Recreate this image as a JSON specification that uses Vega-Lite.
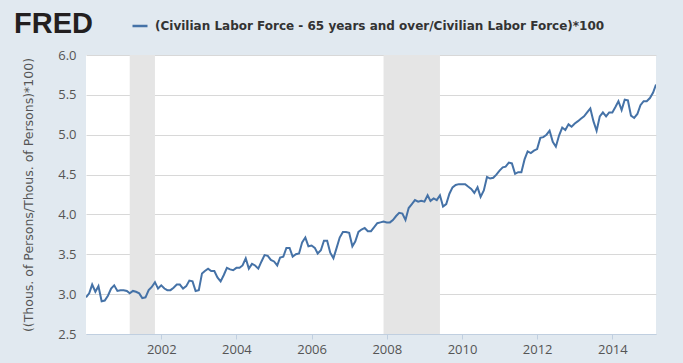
{
  "$schema": "https://vega.github.io/schema/vega-lite/v6.json",
  "width": 570,
  "height": 279,
  "autosize": {"type": "none"},
  "padding": {"left": 86, "top": 55, "right": 27, "bottom": 29},
  "background": "#e1e9f0",
  "title": {
    "text": "FRED",
    "anchor": "start",
    "frame": "group",
    "dx": -72,
    "offset": -22,
    "font": "Liberation Sans",
    "fontSize": 29,
    "fontWeight": 900,
    "color": "#231f20"
  },
  "config": {
    "view": {"fill": "white", "stroke": null},
    "font": "Open Sans",
    "axis": {
      "labelFont": "Open Sans",
      "labelFontSize": 13,
      "labelColor": "#555555",
      "titleFont": "DejaVu Sans",
      "titleFontSize": 12.5,
      "titleFontWeight": "normal",
      "titleColor": "#555555"
    },
    "legend": {
      "orient": "none",
      "legendX": 45,
      "legendY": -38,
      "padding": 0,
      "symbolType": "stroke",
      "symbolSize": 225,
      "symbolStrokeWidth": 2.5,
      "labelFont": "DejaVu Sans",
      "labelFontSize": 12,
      "labelFontWeight": "bold",
      "labelColor": "#333333",
      "labelLimit": 700,
      "labelOffset": 6
    }
  },
  "layer": [
    {
      "data": {"values": [
        {"start": "2001-03-01", "end": "2001-11-01"},
        {"start": "2007-12-01", "end": "2009-06-01"}
      ]},
      "mark": {"type": "rect", "color": "#e5e5e5"},
      "encoding": {
        "x": {"field": "start", "type": "temporal", "scale": {"type": "utc"}},
        "x2": {"field": "end"}
      }
    },
    {
      "data": {"values": [
        {"date":"2000-01-01","value":2.96},{"date":"2000-02-01","value":3.01},{"date":"2000-03-01","value":3.12},{"date":"2000-04-01","value":3.03},{"date":"2000-05-01","value":3.10},{"date":"2000-06-01","value":2.91},{"date":"2000-07-01","value":2.92},{"date":"2000-08-01","value":2.98},{"date":"2000-09-01","value":3.07},{"date":"2000-10-01","value":3.11},{"date":"2000-11-01","value":3.04},{"date":"2000-12-01","value":3.05},
        {"date":"2001-01-01","value":3.05},{"date":"2001-02-01","value":3.04},{"date":"2001-03-01","value":3.01},{"date":"2001-04-01","value":3.04},{"date":"2001-05-01","value":3.03},{"date":"2001-06-01","value":3.01},{"date":"2001-07-01","value":2.95},{"date":"2001-08-01","value":2.96},{"date":"2001-09-01","value":3.05},{"date":"2001-10-01","value":3.09},{"date":"2001-11-01","value":3.15},{"date":"2001-12-01","value":3.07},
        {"date":"2002-01-01","value":3.11},{"date":"2002-02-01","value":3.07},{"date":"2002-03-01","value":3.05},{"date":"2002-04-01","value":3.05},{"date":"2002-05-01","value":3.08},{"date":"2002-06-01","value":3.12},{"date":"2002-07-01","value":3.12},{"date":"2002-08-01","value":3.07},{"date":"2002-09-01","value":3.10},{"date":"2002-10-01","value":3.17},{"date":"2002-11-01","value":3.16},{"date":"2002-12-01","value":3.04},
        {"date":"2003-01-01","value":3.05},{"date":"2003-02-01","value":3.26},{"date":"2003-03-01","value":3.29},{"date":"2003-04-01","value":3.32},{"date":"2003-05-01","value":3.29},{"date":"2003-06-01","value":3.29},{"date":"2003-07-01","value":3.21},{"date":"2003-08-01","value":3.16},{"date":"2003-09-01","value":3.24},{"date":"2003-10-01","value":3.33},{"date":"2003-11-01","value":3.31},{"date":"2003-12-01","value":3.30},
        {"date":"2004-01-01","value":3.33},{"date":"2004-02-01","value":3.33},{"date":"2004-03-01","value":3.36},{"date":"2004-04-01","value":3.45},{"date":"2004-05-01","value":3.32},{"date":"2004-06-01","value":3.38},{"date":"2004-07-01","value":3.36},{"date":"2004-08-01","value":3.32},{"date":"2004-09-01","value":3.41},{"date":"2004-10-01","value":3.49},{"date":"2004-11-01","value":3.48},{"date":"2004-12-01","value":3.43},
        {"date":"2005-01-01","value":3.41},{"date":"2005-02-01","value":3.36},{"date":"2005-03-01","value":3.46},{"date":"2005-04-01","value":3.47},{"date":"2005-05-01","value":3.58},{"date":"2005-06-01","value":3.58},{"date":"2005-07-01","value":3.47},{"date":"2005-08-01","value":3.50},{"date":"2005-09-01","value":3.51},{"date":"2005-10-01","value":3.65},{"date":"2005-11-01","value":3.71},{"date":"2005-12-01","value":3.60},
        {"date":"2006-01-01","value":3.61},{"date":"2006-02-01","value":3.58},{"date":"2006-03-01","value":3.51},{"date":"2006-04-01","value":3.55},{"date":"2006-05-01","value":3.67},{"date":"2006-06-01","value":3.67},{"date":"2006-07-01","value":3.52},{"date":"2006-08-01","value":3.45},{"date":"2006-09-01","value":3.58},{"date":"2006-10-01","value":3.71},{"date":"2006-11-01","value":3.78},{"date":"2006-12-01","value":3.78},
        {"date":"2007-01-01","value":3.77},{"date":"2007-02-01","value":3.60},{"date":"2007-03-01","value":3.66},{"date":"2007-04-01","value":3.78},{"date":"2007-05-01","value":3.81},{"date":"2007-06-01","value":3.83},{"date":"2007-07-01","value":3.79},{"date":"2007-08-01","value":3.79},{"date":"2007-09-01","value":3.84},{"date":"2007-10-01","value":3.89},{"date":"2007-11-01","value":3.90},{"date":"2007-12-01","value":3.91},
        {"date":"2008-01-01","value":3.90},{"date":"2008-02-01","value":3.90},{"date":"2008-03-01","value":3.93},{"date":"2008-04-01","value":3.98},{"date":"2008-05-01","value":4.02},{"date":"2008-06-01","value":4.01},{"date":"2008-07-01","value":3.93},{"date":"2008-08-01","value":4.08},{"date":"2008-09-01","value":4.13},{"date":"2008-10-01","value":4.18},{"date":"2008-11-01","value":4.16},{"date":"2008-12-01","value":4.17},
        {"date":"2009-01-01","value":4.16},{"date":"2009-02-01","value":4.24},{"date":"2009-03-01","value":4.17},{"date":"2009-04-01","value":4.20},{"date":"2009-05-01","value":4.18},{"date":"2009-06-01","value":4.24},{"date":"2009-07-01","value":4.10},{"date":"2009-08-01","value":4.13},{"date":"2009-09-01","value":4.26},{"date":"2009-10-01","value":4.34},{"date":"2009-11-01","value":4.37},{"date":"2009-12-01","value":4.38},
        {"date":"2010-01-01","value":4.38},{"date":"2010-02-01","value":4.38},{"date":"2010-03-01","value":4.35},{"date":"2010-04-01","value":4.32},{"date":"2010-05-01","value":4.27},{"date":"2010-06-01","value":4.34},{"date":"2010-07-01","value":4.22},{"date":"2010-08-01","value":4.30},{"date":"2010-09-01","value":4.47},{"date":"2010-10-01","value":4.45},{"date":"2010-11-01","value":4.46},{"date":"2010-12-01","value":4.50},
        {"date":"2011-01-01","value":4.55},{"date":"2011-02-01","value":4.59},{"date":"2011-03-01","value":4.60},{"date":"2011-04-01","value":4.65},{"date":"2011-05-01","value":4.64},{"date":"2011-06-01","value":4.51},{"date":"2011-07-01","value":4.53},{"date":"2011-08-01","value":4.53},{"date":"2011-09-01","value":4.69},{"date":"2011-10-01","value":4.79},{"date":"2011-11-01","value":4.77},{"date":"2011-12-01","value":4.80},
        {"date":"2012-01-01","value":4.82},{"date":"2012-02-01","value":4.96},{"date":"2012-03-01","value":4.97},{"date":"2012-04-01","value":5.00},{"date":"2012-05-01","value":5.05},{"date":"2012-06-01","value":4.91},{"date":"2012-07-01","value":4.85},{"date":"2012-08-01","value":4.99},{"date":"2012-09-01","value":5.09},{"date":"2012-10-01","value":5.06},{"date":"2012-11-01","value":5.13},{"date":"2012-12-01","value":5.10},
        {"date":"2013-01-01","value":5.14},{"date":"2013-02-01","value":5.17},{"date":"2013-03-01","value":5.20},{"date":"2013-04-01","value":5.23},{"date":"2013-05-01","value":5.28},{"date":"2013-06-01","value":5.33},{"date":"2013-07-01","value":5.17},{"date":"2013-08-01","value":5.05},{"date":"2013-09-01","value":5.23},{"date":"2013-10-01","value":5.28},{"date":"2013-11-01","value":5.23},{"date":"2013-12-01","value":5.28},
        {"date":"2014-01-01","value":5.28},{"date":"2014-02-01","value":5.35},{"date":"2014-03-01","value":5.42},{"date":"2014-04-01","value":5.31},{"date":"2014-05-01","value":5.44},{"date":"2014-06-01","value":5.43},{"date":"2014-07-01","value":5.24},{"date":"2014-08-01","value":5.21},{"date":"2014-09-01","value":5.26},{"date":"2014-10-01","value":5.37},{"date":"2014-11-01","value":5.42},{"date":"2014-12-01","value":5.42},
        {"date":"2015-01-01","value":5.46},{"date":"2015-02-01","value":5.53},{"date":"2015-03-01","value":5.63}
      ]},
      "mark": {"type": "line", "strokeWidth": 2, "clip": true},
      "encoding": {
        "x": {
          "field": "date",
          "type": "temporal",
          "title": null,
          "scale": {
            "type": "utc",
            "domain": [
              {"year": 2000, "month": 1, "date": 1, "utc": true},
              {"year": 2015, "month": 3, "date": 1, "utc": true}
            ]
          },
          "axis": {
            "values": [
              {"year": 2002, "month": 1, "date": 1, "utc": true},
              {"year": 2004, "month": 1, "date": 1, "utc": true},
              {"year": 2006, "month": 1, "date": 1, "utc": true},
              {"year": 2008, "month": 1, "date": 1, "utc": true},
              {"year": 2010, "month": 1, "date": 1, "utc": true},
              {"year": 2012, "month": 1, "date": 1, "utc": true},
              {"year": 2014, "month": 1, "date": 1, "utc": true}
            ],
            "format": "%Y",
            "formatType": "utc",
            "grid": false,
            "domainColor": "#c0cfe0",
            "tickColor": "#c0cfe0",
            "tickSize": 5,
            "labelPadding": 4
          }
        },
        "y": {
          "field": "value",
          "type": "quantitative",
          "title": "((Thous. of Persons/Thous. of Persons)*100)",
          "scale": {"domain": [2.5, 6.0], "nice": false, "zero": false},
          "axis": {
            "values": [2.5, 3.0, 3.5, 4.0, 4.5, 5.0, 5.5, 6.0],
            "format": ".1f",
            "domain": false,
            "ticks": false,
            "gridColor": "#d8d8d8",
            "gridWidth": 1,
            "labelPadding": 10,
            "titlePadding": 22
          }
        },
        "color": {
          "datum": "(Civilian Labor Force - 65 years and over/Civilian Labor Force)*100",
          "scale": {"range": ["#4572a7"]},
          "legend": {"title": null}
        }
      }
    }
  ]
}
